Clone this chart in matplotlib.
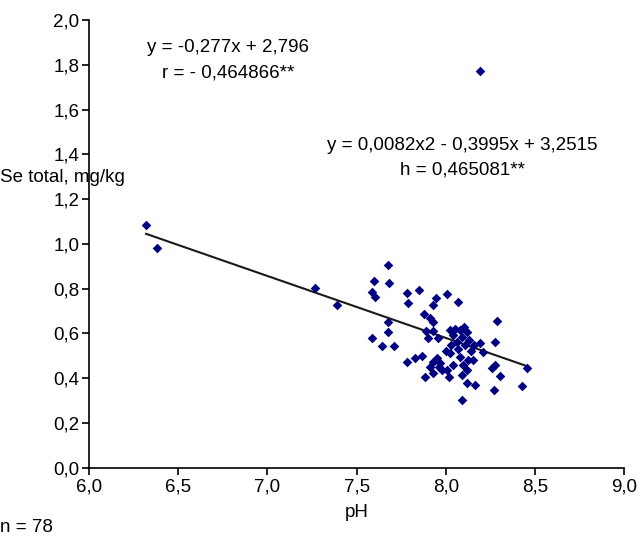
import numpy as np
import matplotlib.pyplot as plt
from matplotlib.ticker import FuncFormatter, MultipleLocator

plt.rcParams['font.family'] = ['Liberation Sans', 'DejaVu Sans']

### données

ph = [6.32, 6.38, 8.19,
      7.674, 7.598, 7.682, 7.267, 7.585, 7.603, 7.781, 7.848, 7.945, 8.005,
      7.790, 8.070, 7.388, 7.930, 7.878, 7.911, 7.930, 8.285, 7.674, 7.678,
      7.585, 7.644, 7.710, 7.902, 7.958, 8.024, 8.042, 8.080, 8.117, 8.061,
      8.108, 8.155, 8.192, 8.278, 8.210, 8.024, 8.080, 7.781, 7.829, 7.866,
      7.930, 7.969, 7.911, 8.126, 8.042, 8.098, 8.277, 8.258, 8.453, 7.883,
      7.930, 7.977, 8.015, 8.117, 8.089, 8.304, 8.117, 8.165, 8.267, 8.426,
      8.089, 8.005,
      8.05, 8.09, 8.13, 8.03, 8.14, 7.93, 7.96, 8.15, 8.00, 7.89, 8.10, 8.07, 7.95]

se = [1.083, 0.982, 1.775,
      0.906, 0.836, 0.827, 0.802, 0.787, 0.764, 0.782, 0.794, 0.760, 0.776,
      0.735, 0.739, 0.727, 0.727, 0.687, 0.668, 0.653, 0.656, 0.653, 0.608,
      0.578, 0.544, 0.544, 0.578, 0.578, 0.615, 0.593, 0.615, 0.608, 0.563,
      0.548, 0.548, 0.556, 0.563, 0.519, 0.511, 0.496, 0.474, 0.489, 0.499,
      0.474, 0.467, 0.452, 0.481, 0.459, 0.459, 0.459, 0.444, 0.444, 0.407,
      0.422, 0.437, 0.407, 0.437, 0.414, 0.410, 0.377, 0.370, 0.347, 0.365,
      0.303, 0.437,
      0.62, 0.586, 0.57, 0.55, 0.52, 0.61, 0.45, 0.48, 0.52, 0.61, 0.63, 0.53, 0.49]

coef_lin = [-0.277, 2.796]      # y = -0,277x + 2,796

### tracé

fig = plt.figure(figsize=(6.41, 5.45), dpi=100)
ax = fig.add_axes([0.1388, 0.1417, 0.9740 - 0.1388, 0.963 - 0.1417])

ax.scatter(ph, se, marker='D', s=24, color='#000080', zorder=3, linewidths=0)

xl = np.array([min(ph), max(ph)])
ax.plot(xl, np.polyval(coef_lin, xl), color='#1a1a1a', lw=1.5, zorder=2)

ax.set_xlim(6, 9)
ax.set_ylim(0, 2)
ax.xaxis.set_major_locator(MultipleLocator(0.5))
ax.yaxis.set_major_locator(MultipleLocator(0.2))
virgule = FuncFormatter(lambda v, p: ('%.1f' % v).replace('.', ','))
ax.xaxis.set_major_formatter(virgule)
ax.yaxis.set_major_formatter(virgule)

for s in ['top', 'right']:
    ax.spines[s].set_visible(False)
for s in ['left', 'bottom']:
    ax.spines[s].set_linewidth(1.2)
ax.tick_params(direction='out', length=5, width=1.2, labelsize=13.5, colors='black')
ax.tick_params(axis='x', pad=3)
ax.tick_params(axis='y', pad=2)

fs = 13.5
fig.text(0.0, 1 - 178/545, 'Se total, mg/kg', fontsize=fs, va='center', ha='left')
fig.text(0.0, 1 - 528/545, 'n = 78', fontsize=fs, va='center', ha='left')
ax.set_xlabel('pH', fontsize=fs, labelpad=6)

fig.text(228/641, 1 - 48/545, 'y = -0,277x + 2,796', fontsize=fs, ha='center', va='center')
fig.text(228/641, 1 - 73/545, 'r = - 0,464866**', fontsize=fs, ha='center', va='center')
fig.text(462/641, 1 - 145/545, 'y = 0,0082x2 - 0,3995x + 3,2515', fontsize=fs, ha='center', va='center')
fig.text(462/641, 1 - 170/545, 'h = 0,465081**', fontsize=fs, ha='center', va='center')

fig.savefig('out.png', dpi=100)
